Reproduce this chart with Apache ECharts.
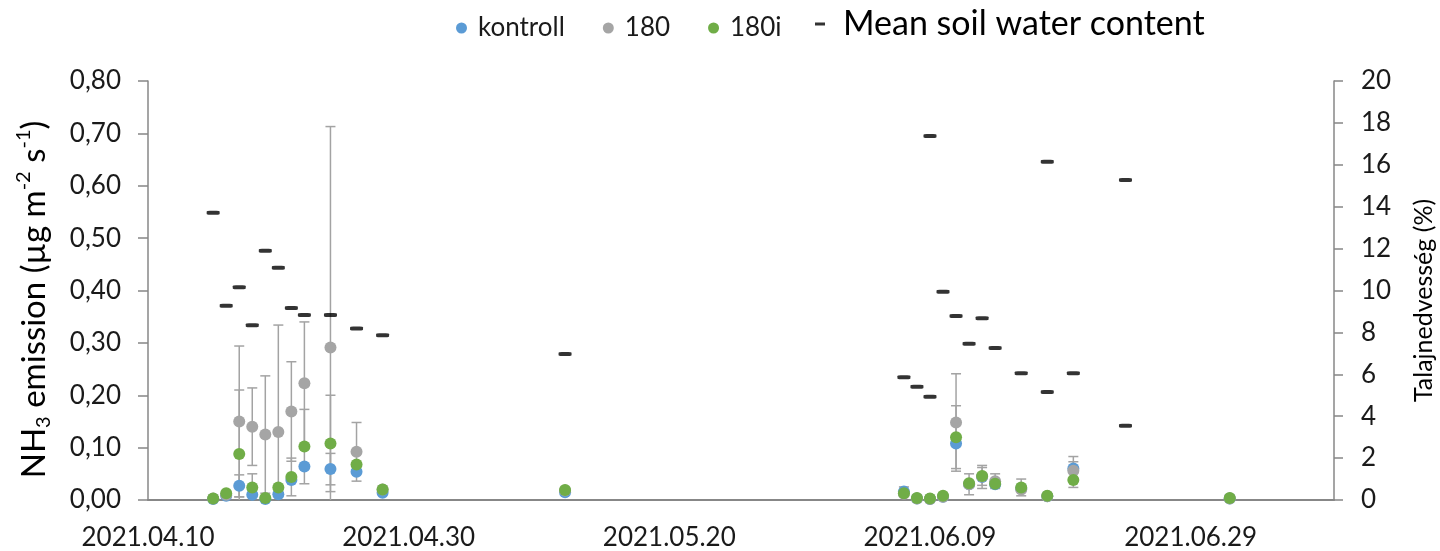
<!DOCTYPE html>
<html>
<head>
<meta charset="utf-8">
<script src="https://cdn.jsdelivr.net/npm/echarts@6/dist/echarts.min.js"></script>
<style>
  html, body { margin: 0; padding: 0; background: #ffffff; }
  #chart { width: 1440px; height: 551px; }
</style>
</head>
<body>
<div id="chart"></div>
<script>
// Sampling dates of the NH3 chamber measurements
const sampleDates = [
  '2021-04-15', '2021-04-16', '2021-04-17', '2021-04-18', '2021-04-19', '2021-04-20',
  '2021-04-21', '2021-04-22', '2021-04-24', '2021-04-26', '2021-04-28', '2021-05-12',
  '2021-06-07', '2021-06-08', '2021-06-09', '2021-06-10', '2021-06-11', '2021-06-12',
  '2021-06-13', '2021-06-14', '2021-06-16', '2021-06-18', '2021-06-20', '2021-07-02'
];

// Mean NH3 emission per treatment (µg m-2 s-1)
const kontroll = [0.002, 0.008, 0.027, 0.010, 0.002, 0.011, 0.038, 0.064, 0.059, 0.054, 0.014, 0.015,
                  0.016, 0.003, 0.002, 0.006, 0.108, 0.030, 0.044, 0.030, 0.022, 0.007, 0.060, 0.003];
const t180 = [0.003, 0.010, 0.150, 0.140, 0.125, 0.130, 0.169, 0.223, 0.291, 0.092, 0.020, 0.018,
              0.012, 0.003, 0.002, 0.006, 0.148, 0.030, 0.045, 0.036, 0.020, 0.007, 0.056, 0.003];
const t180i = [0.003, 0.013, 0.088, 0.024, 0.004, 0.024, 0.044, 0.102, 0.108, 0.068, 0.020, 0.019,
               0.013, 0.004, 0.003, 0.008, 0.120, 0.032, 0.046, 0.031, 0.024, 0.008, 0.038, 0.004];

// Standard deviations (0 = no bar drawn)
const kontrollSd = [0, 0, 0.021, 0, 0, 0, 0, 0, 0.030, 0, 0, 0,
                    0.009, 0, 0, 0, 0, 0, 0.022, 0, 0, 0, 0.023, 0];
const t180Sd = [0, 0, 0.144, 0.074, 0.112, 0.204, 0.095, 0.117, 0.422, 0.056, 0, 0,
                0, 0, 0, 0, 0.093, 0.020, 0.017, 0.014, 0, 0, 0.017, 0];
const t180iSd = [0, 0, 0.122, 0.026, 0, 0, 0.036, 0.071, 0.092, 0, 0, 0,
                 0, 0, 0, 0, 0.060, 0, 0, 0, 0.016, 0, 0.014, 0];

// Soil water content readings (%)
const soilDates = [
  '2021-04-15', '2021-04-16', '2021-04-17', '2021-04-18', '2021-04-19', '2021-04-20',
  '2021-04-21', '2021-04-22', '2021-04-24', '2021-04-26', '2021-04-28', '2021-05-12',
  '2021-06-07', '2021-06-08', '2021-06-09', '2021-06-09', '2021-06-10', '2021-06-11',
  '2021-06-12', '2021-06-13', '2021-06-14', '2021-06-16', '2021-06-18', '2021-06-18',
  '2021-06-20', '2021-06-24', '2021-06-24'
];
const soilWater = [13.71, 9.27, 10.15, 8.34, 11.90, 11.09, 9.16, 8.83, 8.83, 8.19, 7.86, 6.97,
                   5.86, 5.41, 4.93, 17.37, 9.94, 8.78, 7.46, 8.67, 7.26, 6.05, 16.15, 5.16,
                   6.05, 15.27, 3.55];

// Date axis: days counted from the first axis date
const axisStart = Date.UTC(2021, 3, 10);
const axisDays = 91;
const tickStepDays = 20;
const DAY = 86400000;

function dayIndex(s) {
  const p = s.split('-').map(Number);
  return Math.round((Date.UTC(p[0], p[1] - 1, p[2]) - axisStart) / DAY);
}
function pad(n) { return n < 10 ? '0' + n : '' + n; }
function dateLabel(n) {
  const t = new Date(axisStart + n * DAY);
  return t.getUTCFullYear() + '.' + pad(t.getUTCMonth() + 1) + '.' + pad(t.getUTCDate());
}

const FONT = 'Lato';
const AXIS_GREY = '#878787';
const BAR_GREY = '#A3A3A3';
const COLORS = { kontroll: '#5B9BD5', t180: '#A5A5A5', t180i: '#70AD47' };

function points(values) {
  return sampleDates.map((d, i) => [dayIndex(d), values[i]]);
}

// Vertical error bars with caps, clipped at zero like the value axis
function errorBars(name, values, sds) {
  return {
    type: 'custom',
    name: name,
    z: 1,
    data: sampleDates.map((d, i) => [dayIndex(d), values[i], sds[i]]),
    encode: { x: 0, y: 1 },
    renderItem: function (params, api) {
      const x = api.value(0), v = api.value(1), e = api.value(2);
      if (!e) return { type: 'group', children: [] };
      const lo = Math.max(0, v - e), hi = v + e;
      const pHi = api.coord([x, hi]);
      const pLo = api.coord([x, lo]);
      const cap = 5;
      const style = { stroke: BAR_GREY, lineWidth: 1.5 };
      const children = [
        { type: 'line', shape: { x1: pHi[0], y1: pHi[1], x2: pLo[0], y2: pLo[1] }, style: style },
        { type: 'line', shape: { x1: pHi[0] - cap, y1: pHi[1], x2: pHi[0] + cap, y2: pHi[1] }, style: style }
      ];
      if (v - e > 0) {
        children.push({ type: 'line', shape: { x1: pLo[0] - cap, y1: pLo[1], x2: pLo[0] + cap, y2: pLo[1] }, style: style });
      }
      return { type: 'group', children: children };
    }
  };
}

function dots(name, values, color) {
  return {
    type: 'scatter',
    name: name,
    z: 3,
    symbol: 'circle',
    symbolSize: 12,
    itemStyle: { color: color, opacity: 1 },
    data: points(values)
  };
}

const chart = echarts.init(document.getElementById('chart'), null, { renderer: 'canvas' });

chart.setOption({
  animation: false,
  backgroundColor: '#ffffff',
  textStyle: { fontFamily: FONT },
  legend: [
    {
      data: ['kontroll', '180', '180i'],
      left: 451,
      top: 10,
      icon: 'circle',
      itemWidth: 11,
      itemHeight: 11,
      itemGap: 38,
      textStyle: { fontFamily: FONT, fontSize: 26, color: '#1a1a1a', padding: [0, 0, 0, 6] }
    },
    {
      data: ['Mean soil water content'],
      left: 810,
      top: 2,
      icon: 'rect',
      itemWidth: 10,
      itemHeight: 3,
      textStyle: { fontFamily: FONT, fontSize: 34, color: '#000000', padding: [0, 0, 0, 13] }
    }
  ],
  grid: {
    left: 148,
    right: 106,
    top: 81,
    bottom: 51,
    containLabel: false,
    outerBoundsMode: 'none'
  },
  xAxis: {
    type: 'value',
    min: 0,
    max: axisDays,
    interval: tickStepDays,
    splitLine: { show: false },
    axisTick: { show: false },
    axisLine: { lineStyle: { color: AXIS_GREY, width: 2 } },
    axisLabel: {
      formatter: dateLabel,
      showMaxLabel: false,
      margin: 25,
      fontFamily: FONT,
      fontSize: 26,
      color: '#1a1a1a'
    }
  },
  yAxis: [
    {
      type: 'value',
      min: 0,
      max: 0.8,
      interval: 0.1,
      position: 'left',
      splitLine: { show: false },
      axisLine: { show: true, lineStyle: { color: AXIS_GREY, width: 1.5 } },
      axisTick: { show: true, length: 10, lineStyle: { color: AXIS_GREY, width: 1.5 } },
      axisLabel: {
        formatter: v => v.toFixed(2).replace('.', ','),
        margin: 27,
        fontFamily: FONT,
        fontSize: 26,
        color: '#1a1a1a'
      },
      name: '{a|NH}{sub|3}{a| emission (µg m}{sup|-2}{a| s}{sup|-1}{a|)}',
      nameLocation: 'middle',
      nameRotate: 90,
      nameGap: 94,
      nameTextStyle: {
        padding: [0, 18, 0, 0],
        rich: {
          a: { fontFamily: FONT, fontSize: 33, color: '#000000', lineHeight: 40 },
          sub: { fontFamily: FONT, fontSize: 20, color: '#000000', verticalAlign: 'bottom', lineHeight: 26 },
          sup: { fontFamily: FONT, fontSize: 20, color: '#000000', verticalAlign: 'top', lineHeight: 22 }
        }
      }
    },
    {
      type: 'value',
      min: 0,
      max: 20,
      interval: 2,
      position: 'right',
      splitLine: { show: false },
      axisLine: { show: true, lineStyle: { color: AXIS_GREY, width: 1.5 } },
      axisTick: { show: true, length: 9, lineStyle: { color: AXIS_GREY, width: 1.5 } },
      axisLabel: { margin: 27, fontFamily: FONT, fontSize: 26, color: '#1a1a1a' },
      name: 'Talajnedvesség (%)',
      nameLocation: 'middle',
      nameRotate: 90,
      nameGap: 77,
      nameTextStyle: { fontFamily: FONT, fontSize: 25, color: '#000000', padding: [0, 20, 0, 0] }
    }
  ],
  series: [
    errorBars('kontroll ±SD', kontroll, kontrollSd),
    errorBars('180 ±SD', t180, t180Sd),
    errorBars('180i ±SD', t180i, t180iSd),
    dots('kontroll', kontroll, COLORS.kontroll),
    dots('180', t180, COLORS.t180),
    dots('180i', t180i, COLORS.t180i),
    {
      type: 'scatter',
      name: 'Mean soil water content',
      yAxisIndex: 1,
      z: 4,
      symbol: 'roundRect',
      symbolSize: [13, 4],
      itemStyle: { color: '#000000' },
      data: soilDates.map((d, i) => [dayIndex(d), soilWater[i]])
    }
  ]
});
</script>
</body>
</html>
